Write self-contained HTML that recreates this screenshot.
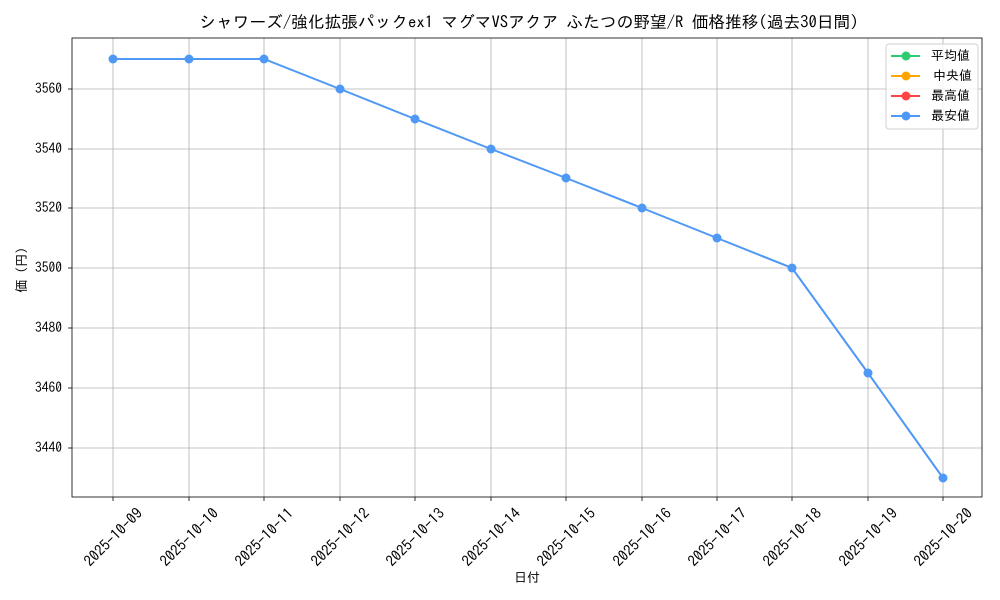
<!DOCTYPE html>
<html><head><meta charset="utf-8"><style>body{margin:0;background:#fff}svg{display:block}text{font-family:"IPAGothic","Noto Sans CJK JP",sans-serif;fill:#000}</style></head><body>
<svg width="1000" height="600" xmlns="http://www.w3.org/2000/svg">
<rect width="1000" height="600" fill="#fff"/>
<text x="529" y="28" font-size="16.7" text-anchor="middle">シャワーズ/強化拡張パックex1 マグマVSアクア ふたつの野望/R 価格推移(過去30日間)</text>
<g stroke="#b0b0b0" stroke-width="0.8">
<line x1="113" y1="38" x2="113" y2="497"/><line x1="189" y1="38" x2="189" y2="497"/><line x1="264" y1="38" x2="264" y2="497"/><line x1="340" y1="38" x2="340" y2="497"/><line x1="415" y1="38" x2="415" y2="497"/><line x1="491" y1="38" x2="491" y2="497"/><line x1="566" y1="38" x2="566" y2="497"/><line x1="642" y1="38" x2="642" y2="497"/><line x1="717" y1="38" x2="717" y2="497"/><line x1="792" y1="38" x2="792" y2="497"/><line x1="868" y1="38" x2="868" y2="497"/><line x1="943" y1="38" x2="943" y2="497"/>
<line x1="72" y1="89" x2="982" y2="89"/><line x1="72" y1="149" x2="982" y2="149"/><line x1="72" y1="208" x2="982" y2="208"/><line x1="72" y1="268" x2="982" y2="268"/><line x1="72" y1="328" x2="982" y2="328"/><line x1="72" y1="388" x2="982" y2="388"/><line x1="72" y1="448" x2="982" y2="448"/>
</g>
<rect x="72" y="38" width="910" height="459" fill="none" stroke="#000" stroke-width="0.8"/>
<g stroke="#000" stroke-width="0.8">
<line x1="68" y1="89" x2="72" y2="89"/><line x1="68" y1="149" x2="72" y2="149"/><line x1="68" y1="208" x2="72" y2="208"/><line x1="68" y1="268" x2="72" y2="268"/><line x1="68" y1="328" x2="72" y2="328"/><line x1="68" y1="388" x2="72" y2="388"/><line x1="68" y1="448" x2="72" y2="448"/>
<line x1="113" y1="497" x2="113" y2="501"/><line x1="189" y1="497" x2="189" y2="501"/><line x1="264" y1="497" x2="264" y2="501"/><line x1="340" y1="497" x2="340" y2="501"/><line x1="415" y1="497" x2="415" y2="501"/><line x1="491" y1="497" x2="491" y2="501"/><line x1="566" y1="497" x2="566" y2="501"/><line x1="642" y1="497" x2="642" y2="501"/><line x1="717" y1="497" x2="717" y2="501"/><line x1="792" y1="497" x2="792" y2="501"/><line x1="868" y1="497" x2="868" y2="501"/><line x1="943" y1="497" x2="943" y2="501"/>
</g>
<g font-size="13.5" text-anchor="end">
<text x="62" y="93">3560</text><text x="62" y="153">3540</text><text x="62" y="212">3520</text><text x="62" y="272">3500</text><text x="62" y="332">3480</text><text x="62" y="392">3460</text><text x="62" y="452">3440</text>
</g>
<g font-size="15" text-anchor="middle" dominant-baseline="central">
<text transform="translate(113,537) rotate(-45)">2025-10-09</text><text transform="translate(189,537) rotate(-45)">2025-10-10</text><text transform="translate(264,537) rotate(-45)">2025-10-11</text><text transform="translate(340,537) rotate(-45)">2025-10-12</text><text transform="translate(415,537) rotate(-45)">2025-10-13</text><text transform="translate(491,537) rotate(-45)">2025-10-14</text><text transform="translate(566,537) rotate(-45)">2025-10-15</text><text transform="translate(642,537) rotate(-45)">2025-10-16</text><text transform="translate(717,537) rotate(-45)">2025-10-17</text><text transform="translate(792,537) rotate(-45)">2025-10-18</text><text transform="translate(868,537) rotate(-45)">2025-10-19</text><text transform="translate(943,537) rotate(-45)">2025-10-20</text>
</g>
<text x="527" y="582" font-size="13" text-anchor="middle">日付</text>
<text transform="translate(26,270) rotate(-90)" font-size="13" text-anchor="middle">価 (円)</text>
<polyline fill="none" stroke="#4f98f5" stroke-width="2" points="113,59 189,59 264,59 340,89 415,119 491,149 566,178 642,208 717,238 792,268 868,373 943,478"/>
<g fill="#4f98f5">
<circle cx="113" cy="59" r="4.5"/><circle cx="189" cy="59" r="4.5"/><circle cx="264" cy="59" r="4.5"/><circle cx="340" cy="89" r="4.5"/><circle cx="415" cy="119" r="4.5"/><circle cx="491" cy="149" r="4.5"/><circle cx="566" cy="178" r="4.5"/><circle cx="642" cy="208" r="4.5"/><circle cx="717" cy="238" r="4.5"/><circle cx="792" cy="268" r="4.5"/><circle cx="868" cy="373" r="4.5"/><circle cx="943" cy="478" r="4.5"/>
</g>
<rect x="886" y="44" width="92" height="85" rx="3" fill="#fff" fill-opacity="0.8" stroke="#d0d0d0"/>
<g stroke-width="2">
<line x1="891" y1="56" x2="920" y2="56" stroke="#2ecc71"/><circle cx="906" cy="56" r="4.5" fill="#2ecc71"/>
<line x1="891" y1="76" x2="920" y2="76" stroke="#ffa500"/><circle cx="906" cy="76" r="4.5" fill="#ffa500"/>
<line x1="891" y1="96" x2="920" y2="96" stroke="#ff4444"/><circle cx="906" cy="96" r="4.5" fill="#ff4444"/>
<line x1="891" y1="116" x2="920" y2="116" stroke="#4f98f5"/><circle cx="906" cy="116" r="4.5" fill="#4f98f5"/>
</g>
<g font-size="13">
<text x="931" y="60">平均値</text><text x="933" y="80">中央値</text><text x="931" y="100">最高値</text><text x="931" y="120">最安値</text>
</g>
</svg>
</body></html>
